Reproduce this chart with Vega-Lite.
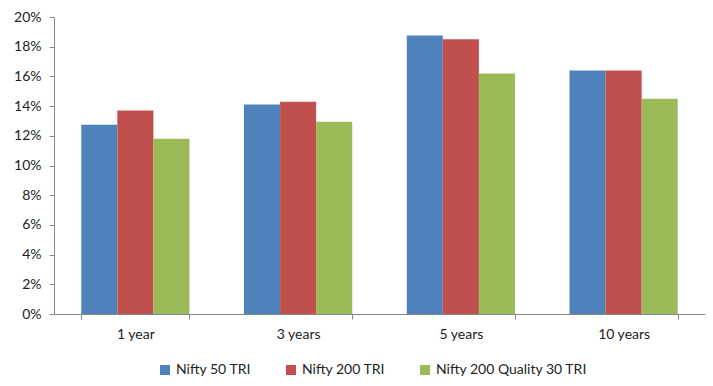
{
  "$schema": "https://vega.github.io/schema/vega-lite/v6.json",
  "width": 651,
  "height": 297,
  "autosize": {"type": "none"},
  "padding": {"left": 54, "top": 17, "right": 8, "bottom": 72},
  "background": "white",
  "data": {
    "values": [
      {"period": "1 year", "series": "Nifty 50 TRI", "value": 12.75},
      {"period": "1 year", "series": "Nifty 200 TRI", "value": 13.7},
      {"period": "1 year", "series": "Nifty 200 Quality 30 TRI", "value": 11.8},
      {"period": "3 years", "series": "Nifty 50 TRI", "value": 14.1},
      {"period": "3 years", "series": "Nifty 200 TRI", "value": 14.3},
      {"period": "3 years", "series": "Nifty 200 Quality 30 TRI", "value": 12.95},
      {"period": "5 years", "series": "Nifty 50 TRI", "value": 18.75},
      {"period": "5 years", "series": "Nifty 200 TRI", "value": 18.5},
      {"period": "5 years", "series": "Nifty 200 Quality 30 TRI", "value": 16.2},
      {"period": "10 years", "series": "Nifty 50 TRI", "value": 16.4},
      {"period": "10 years", "series": "Nifty 200 TRI", "value": 16.4},
      {"period": "10 years", "series": "Nifty 200 Quality 30 TRI", "value": 14.5}
    ]
  },
  "mark": {"type": "bar"},
  "encoding": {
    "x": {
      "field": "period",
      "type": "nominal",
      "sort": ["1 year", "3 years", "5 years", "10 years"],
      "scale": {"paddingInner": 0.335, "paddingOuter": 0.1675},
      "axis": {
        "title": null,
        "labelAngle": 0,
        "tickBand": "extent",
        "tickSize": 5,
        "labelPadding": 8,
        "domainColor": "#868686",
        "tickColor": "#868686",
        "grid": false
      }
    },
    "xOffset": {
      "field": "series",
      "type": "nominal",
      "sort": ["Nifty 50 TRI", "Nifty 200 TRI", "Nifty 200 Quality 30 TRI"],
      "scale": {"paddingInner": 0, "paddingOuter": 0}
    },
    "y": {
      "field": "value",
      "type": "quantitative",
      "scale": {"domain": [0, 20], "nice": false},
      "axis": {
        "title": null,
        "values": [0, 2, 4, 6, 8, 10, 12, 14, 16, 18, 20],
        "labelExpr": "datum.value + '%'",
        "tickSize": 5,
        "labelPadding": 8,
        "domainColor": "#868686",
        "tickColor": "#868686",
        "grid": false
      }
    },
    "color": {
      "field": "series",
      "type": "nominal",
      "sort": ["Nifty 50 TRI", "Nifty 200 TRI", "Nifty 200 Quality 30 TRI"],
      "scale": {
        "domain": ["Nifty 50 TRI", "Nifty 200 TRI", "Nifty 200 Quality 30 TRI"],
        "range": ["#4F81BD", "#C0504D", "#9BBB59"]
      },
      "legend": {
        "title": null,
        "orient": "none",
        "direction": "horizontal",
        "legendX": 104,
        "legendY": 346,
        "symbolType": "square",
        "symbolSize": 100,
        "symbolStrokeWidth": 0,
        "labelOffset": 4,
        "columnPadding": 32
      }
    }
  },
  "config": {
    "view": {"stroke": null},
    "font": "Lato",
    "axis": {"labelFont": "Lato", "labelFontSize": 14, "labelColor": "#222222"},
    "legend": {"labelFont": "Lato", "labelFontSize": 14, "labelColor": "#222222"}
  }
}
